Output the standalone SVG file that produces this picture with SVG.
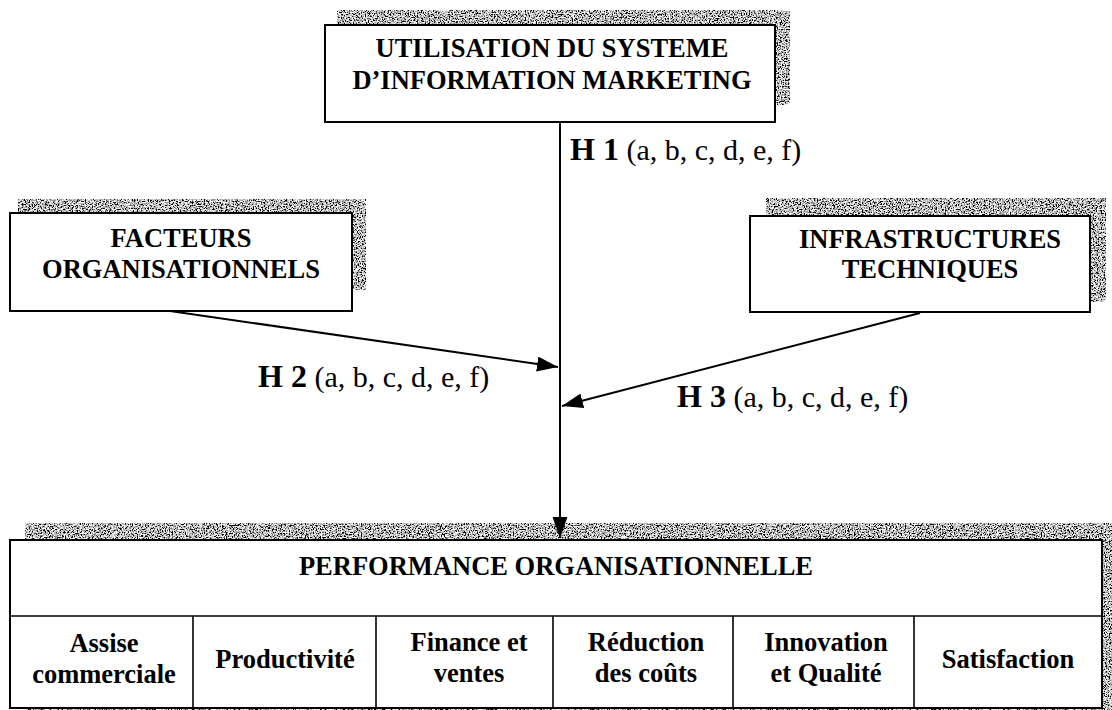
<svg xmlns="http://www.w3.org/2000/svg" width="1112" height="710" viewBox="0 0 1112 710">
  <defs>
    <!-- speckled grey used for the raised-box shadows -->
    <filter id="grain" x="0" y="0" width="100%" height="100%">
      <feTurbulence type="fractalNoise" baseFrequency="0.75" numOctaves="2" seed="7" result="noise"/>
      <feColorMatrix in="noise" type="matrix" values="2.4 2.4 2.4 0 -3.1  2.4 2.4 2.4 0 -3.1  2.4 2.4 2.4 0 -3.1  0 0 0 0 1" result="grey"/>
      <feComposite in="grey" in2="SourceGraphic" operator="in"/>
    </filter>
    <marker id="arrow" markerUnits="userSpaceOnUse" markerWidth="22" markerHeight="16" refX="21" refY="7.5" orient="auto">
      <path d="M0,0 L21,7.5 L0,15 z" fill="#000"/>
    </marker>
  </defs>
  <style>
    .shadow { fill: #999; filter: url(#grain); }
    .box { fill: #fff; stroke: #000; stroke-width: 2; }
    .grid { stroke: #000; stroke-width: 1.6; fill: none; }
    .title { font-family: "Liberation Serif", "Times New Roman", serif; font-weight: bold; font-size: 26.5px; fill: #000; text-anchor: middle; }
    .hyp { font-family: "Liberation Serif", "Times New Roman", serif; font-size: 30px; fill: #000; }
    .hyp .b { font-weight: bold; font-size: 32px; }
    .link { stroke: #000; stroke-width: 2; fill: none; marker-end: url(#arrow); }
  </style>
  <rect width="1112" height="710" fill="#fff"/>

  <!-- usage of the marketing information system -->
  <g id="node-usage">
    <rect class="shadow" x="337" y="10" width="453" height="95"/>
    <rect class="box" x="325" y="25" width="450" height="97"/>
    <text class="title" x="552" y="57">UTILISATION DU SYSTEME</text>
    <text class="title" x="552" y="89">D’INFORMATION MARKETING</text>
  </g>

  <!-- organisational factors -->
  <g id="node-facteurs">
    <rect class="shadow" x="18" y="199" width="348" height="91"/>
    <rect class="box" x="10" y="213" width="342" height="98"/>
    <text class="title" x="181" y="247">FACTEURS</text>
    <text class="title" x="181" y="278">ORGANISATIONNELS</text>
  </g>

  <!-- technical infrastructure -->
  <g id="node-infrastructures">
    <rect class="shadow" x="766" y="198" width="340" height="104"/>
    <rect class="box" x="750" y="216" width="340" height="96"/>
    <text class="title" x="930" y="248">INFRASTRUCTURES</text>
    <text class="title" x="930" y="278">TECHNIQUES</text>
  </g>

  <!-- organisational performance table -->
  <g id="node-performance">
    <rect class="shadow" x="25" y="523" width="1087" height="187"/>
    <rect class="box" x="10" y="540" width="1092" height="168"/>
    <line class="grid" x1="10" y1="616" x2="1102" y2="616"/>
    <line class="grid" x1="193" y1="616" x2="193" y2="708"/>
    <line class="grid" x1="376" y1="616" x2="376" y2="708"/>
    <line class="grid" x1="553" y1="616" x2="553" y2="708"/>
    <line class="grid" x1="733" y1="616" x2="733" y2="708"/>
    <line class="grid" x1="914" y1="616" x2="914" y2="708"/>
    <text class="title" x="556" y="575">PERFORMANCE ORGANISATIONNELLE</text>
    <text class="title" x="104" y="652">Assise</text>
    <text class="title" x="104" y="683">commerciale</text>
    <text class="title" x="285" y="668">Productivité</text>
    <text class="title" x="469" y="651">Finance et</text>
    <text class="title" x="469" y="682">ventes</text>
    <text class="title" x="646" y="651">Réduction</text>
    <text class="title" x="646" y="682">des coûts</text>
    <text class="title" x="826" y="651">Innovation</text>
    <text class="title" x="826" y="682">et Qualité</text>
    <text class="title" x="1008" y="668">Satisfaction</text>
  </g>

  <!-- hypothesis links -->
  <g id="connectors">
    <line class="link" x1="560" y1="122" x2="560" y2="538"/>
    <line class="link" x1="170" y1="311" x2="558" y2="367"/>
    <line class="link" x1="920" y1="313" x2="562" y2="406"/>
    <text class="hyp" x="570" y="160"><tspan class="b">H 1</tspan> (a, b, c, d, e, f)</text>
    <text class="hyp" x="258" y="387"><tspan class="b">H 2</tspan> (a, b, c, d, e, f)</text>
    <text class="hyp" x="677" y="407"><tspan class="b">H 3</tspan> (a, b, c, d, e, f)</text>
  </g>
</svg>
